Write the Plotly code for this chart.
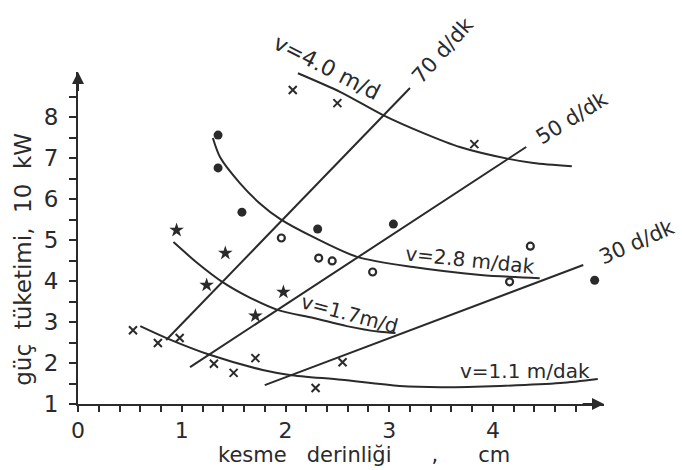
import plotly.graph_objects as go

# ---- data ----
# iso-feed curves: power (10 kW) vs cutting depth (cm)
x_v40 = [2.12, 2.53, 2.94, 3.33, 3.68, 4.15, 4.39, 4.76]
y_v40 = [9.07, 8.61, 8.05, 7.61, 7.27, 6.98, 6.88, 6.80]

x_v28 = [1.30, 1.37, 1.56, 1.75, 1.95, 2.27, 2.69, 3.23, 3.88, 4.45]
y_v28 = [7.49, 7.02, 6.39, 5.90, 5.51, 5.07, 4.59, 4.34, 4.15, 4.07]

x_v17 = [0.92, 1.15, 1.39, 1.66, 1.93, 2.27, 2.59, 2.91, 3.06]
y_v17 = [4.95, 4.44, 3.98, 3.59, 3.29, 3.10, 2.90, 2.76, 2.73]

x_v11 = [0.60, 0.87, 1.27, 1.78, 2.04, 2.54, 3.10, 3.50, 4.07, 4.65, 5.01]
y_v11 = [2.90, 2.59, 2.20, 1.83, 1.71, 1.59, 1.44, 1.41, 1.44, 1.51, 1.61]

# constant-speed lines (d/dk)
x_n70 = [0.85, 3.20]
y_n70 = [2.56, 8.71]
x_n50 = [1.08, 4.32]
y_n50 = [1.90, 7.27]
x_n30 = [1.80, 4.87]
y_n30 = [1.46, 4.39]

# measured points
x_dots = [1.35, 1.35, 1.58, 2.31, 3.04, 4.98]
y_dots = [7.56, 6.76, 5.68, 5.27, 5.39, 4.02]
x_open = [1.96, 2.32, 2.45, 2.84, 4.36, 4.16]
y_open = [5.05, 4.56, 4.49, 4.22, 4.85, 3.98]
x_star = [0.95, 1.42, 1.24, 1.71, 1.98]
y_star = [5.24, 4.68, 3.90, 3.15, 3.73]
x_cross40 = [2.07, 2.50, 3.82]
y_cross40 = [8.66, 8.34, 7.34]
x_cross11 = [0.53, 0.77, 0.98, 1.31, 1.50, 1.71, 2.29, 2.55]
y_cross11 = [2.80, 2.49, 2.61, 1.98, 1.76, 2.12, 1.39, 2.02]

x_tick_labels = ["0", "1", "2", "3", "4"]
y_tick_labels = ["1", "2", "3", "4", "5", "6", "7", "8"]

curve_labels = ["v=4.0 m/d", "v=2.8 m/dak", "v=1.7m/d", "v=1.1 m/dak"]
speed_labels = ["70 d/dk", "50 d/dk", "30 d/dk"]
NB = "\u00a0"
x_title = "kesme" + NB * 3 + "derinliği" + NB * 6 + "," + NB * 6 + "cm"
y_title = "güç" + NB * 2 + "tüketimi," + NB * 2 + "10" + NB * 2 + "kW"

INK = "#2a2a2a"
FONT = "DejaVu Sans"
XR = [0, 5.07]
YR = [1, 9.1]


def px(x):
    return (x - XR[0]) / (XR[1] - XR[0])


def py(y):
    return (y - YR[0]) / (YR[1] - YR[0])


fig = go.Figure()

for xs, ys in [(x_v40, y_v40), (x_v28, y_v28), (x_v17, y_v17), (x_v11, y_v11)]:
    fig.add_trace(go.Scatter(x=xs, y=ys, mode="lines", line=dict(color=INK, width=2, shape="spline", smoothing=0.8)))
for xs, ys in [(x_n70, y_n70), (x_n50, y_n50), (x_n30, y_n30)]:
    fig.add_trace(go.Scatter(x=xs, y=ys, mode="lines", line=dict(color=INK, width=2)))

fig.add_trace(go.Scatter(x=x_dots, y=y_dots, mode="markers", cliponaxis=False,
                         marker=dict(symbol="circle", size=9, color=INK)))
fig.add_trace(go.Scatter(x=x_open, y=y_open, mode="markers", cliponaxis=False,
                         marker=dict(symbol="circle-open", size=7, color=INK, line=dict(width=2.2))))
fig.add_trace(go.Scatter(x=x_star, y=y_star, mode="markers", cliponaxis=False,
                         marker=dict(symbol="star", size=11, color=INK)))
fig.add_trace(go.Scatter(x=x_cross40 + x_cross11, y=y_cross40 + y_cross11, mode="markers", cliponaxis=False,
                         marker=dict(symbol="x-thin", size=8, color=INK, line=dict(width=2, color=INK))))

# x ticks every 0.2, labels on integers
xt = [round(i * 0.2, 1) for i in range(0, 25)]
xtt = [x_tick_labels[int(v)] if abs(v - round(v)) < 1e-9 else "" for v in xt]
yt = [1 + i * 0.5 for i in range(0, 16)]
ytt = [y_tick_labels[int(v) - 1] if abs(v - round(v)) < 1e-9 else "" for v in yt]

fig.update_xaxes(range=XR, showgrid=False, zeroline=False, showline=True, linecolor=INK, linewidth=2,
                 tickmode="array", tickvals=xt, ticktext=xtt, ticks="outside", ticklen=6, tickwidth=2,
                 tickcolor=INK, tickfont=dict(family=FONT, size=22, color=INK), ticklabelstandoff=0)
fig.update_yaxes(range=YR, showgrid=False, zeroline=False, showline=True, linecolor=INK, linewidth=2,
                 tickmode="array", tickvals=yt, ticktext=ytt, ticks="outside", ticklen=7, tickwidth=2,
                 tickcolor=INK, tickfont=dict(family=FONT, size=23, color=INK), ticklabelstandoff=6)

ann = []
# axis arrows
ann.append(dict(x=XR[1], y=1, ax=4.85, ay=1, xref="x", yref="y", axref="x", ayref="y", text="",
                showarrow=True, arrowhead=2, arrowsize=1.2, arrowwidth=2, arrowcolor=INK))
ann.append(dict(x=0, y=YR[1], ax=0, ay=8.6, xref="x", yref="y", axref="x", ayref="y", text="",
                showarrow=True, arrowhead=2, arrowsize=1.2, arrowwidth=2, arrowcolor=INK))


def label(t, x, y, a, size):
    return dict(x=px(x), y=py(y), xref="paper", yref="paper", xanchor="center", yanchor="middle",
                text=t, showarrow=False, textangle=a, font=dict(family=FONT, size=size, color=INK))


label_pos = [(2.40, 9.22, 27), (3.78, 4.51, 6), (2.62, 3.20, 15), (4.31, 1.80, 0)]
label_size = [22, 20, 20, 20]
for t, (x, y, a), s in zip(curve_labels, label_pos, label_size):
    ann.append(label(t, x, y, a, s))
speed_pos = [(3.52, 9.63, -48), (4.76, 7.98, -32), (5.39, 4.95, -24)]
for t, (x, y, a) in zip(speed_labels, speed_pos):
    ann.append(label(t, x, y, a, 21))
ann.append(label(x_title, 2.76, -0.24, 0, 21))
ann.append(label(y_title, -0.53, 4.52, -90, 23))

fig.update_layout(width=682, height=470, margin=dict(l=78, r=78, t=72, b=66),
                  paper_bgcolor="white", plot_bgcolor="white", showlegend=False,
                  annotations=ann, font=dict(family=FONT, color=INK))

fig.write_html("out.html")
